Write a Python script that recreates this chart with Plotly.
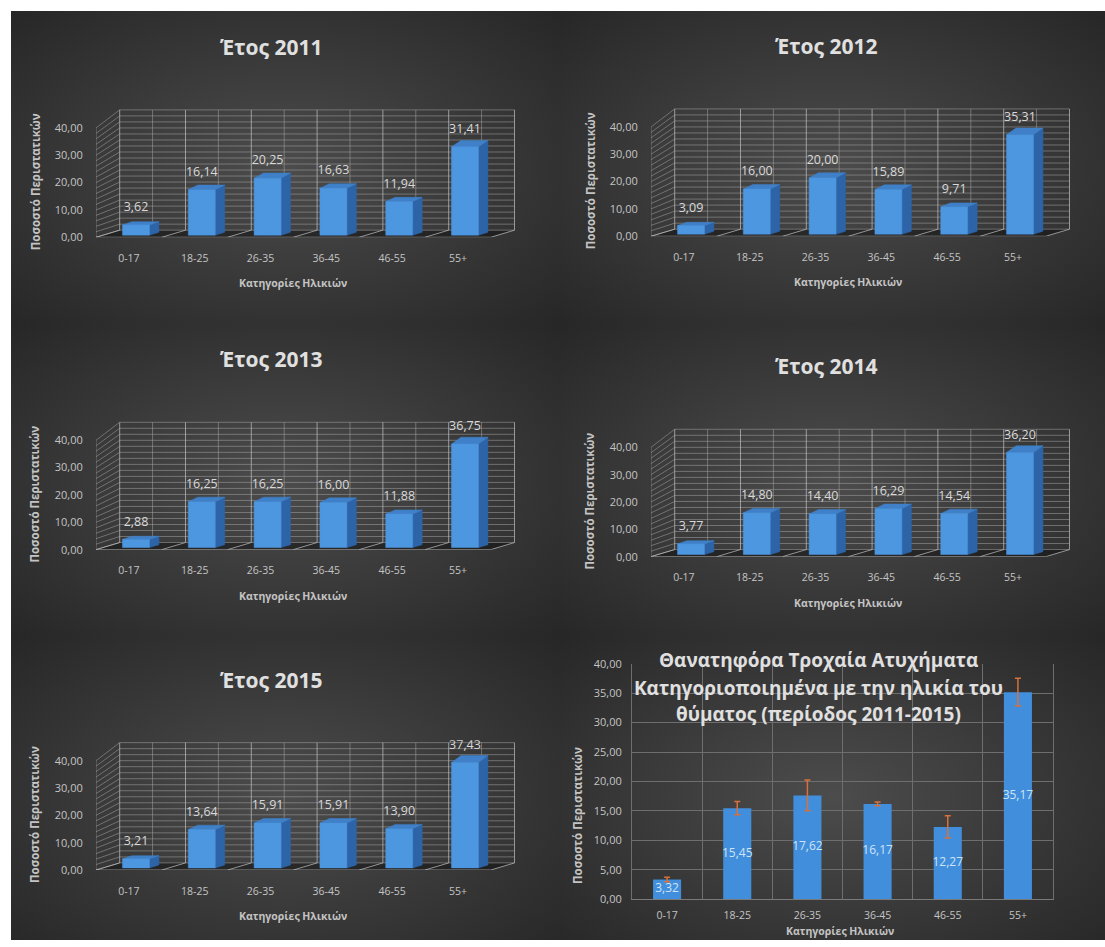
import base64
import plotly.graph_objects as go

# ---------------- data ----------------
categories = ["0-17", "18-25", "26-35", "36-45", "46-55", "55+"]
years = ["2011", "2012", "2013", "2014", "2015"]
values_2011 = [3.62, 16.14, 20.25, 16.63, 11.94, 31.41]
values_2012 = [3.09, 16.00, 20.00, 15.89, 9.71, 35.31]
values_2013 = [2.88, 16.25, 16.25, 16.00, 11.88, 36.75]
values_2014 = [3.77, 14.80, 14.40, 16.29, 14.54, 36.20]
values_2015 = [3.21, 13.64, 15.91, 15.91, 13.90, 37.43]
avg_values = [3.32, 15.45, 17.62, 16.17, 12.27, 35.17]
avg_errors = [0.37, 1.13, 2.62, 0.31, 1.91, 2.37]
y_ticks_3d = [0, 10, 20, 30, 40]
y_ticks_2d = [0, 5, 10, 15, 20, 25, 30, 35, 40]
x_title = "Κατηγορίες Ηλικιών"
y_title = "Ποσοστό Περιστατικών"
summary_title = ["Θανατηφόρα Τροχαία Ατυχήματα",
                 "Κατηγοριοποιημένα με την ηλικία του",
                 "θύματος (περίοδος 2011-2015)"]
year_series = [values_2011, values_2012, values_2013, values_2014, values_2015]

# ---------------- layout constants ----------------
W, H = 1105, 947
VOFF, VSC = 8.0, 0.983     # vertical calibration of target pixel positions
FONT = "Open Sans"
PXC = 65.8      # px per category (front plane)
PXV = 2.73      # px per value unit (front plane)
DX, S, DY0 = 0.36, 0.10, 2.6   # pseudo-3D depth projection
XR = [-0.5, 6.0]
YR = [0, 47.5]
panel_pos = [(96, 237), (651, 236), (96, 549), (651, 556), (96, 869)]

TXT = "#c4c4c4"
TITLE_C = "#e0e0e0"
GRID = "rgba(170,170,170,0.5)"
GRID_B = "rgba(195,195,195,0.7)"


def fmt(v):
    return f"{v:.2f}".replace(".", ",")


def fx(px):
    return px / W


def dy(py):
    return (py - VOFF) / VSC


def fy(py):
    return 1 - dy(py) / H


def proj(x, v, d):
    return x + d * DX, v * (1 + d * S) + d * DY0


fig = go.Figure()
annotations = []


def add_lines(segs, xa, ya, color, width=1):
    xs, ys = [], []
    for (a, b) in segs:
        xs += [a[0], b[0], None]
        ys += [a[1], b[1], None]
    fig.add_trace(go.Scatter(x=xs, y=ys, mode="lines", xaxis=xa, yaxis=ya,
                             line=dict(color=color, width=width),
                             hoverinfo="skip", showlegend=False))


def add_polys(polys, xa, ya, color, line_color=None):
    xs, ys = [], []
    for p in polys:
        for q in p:
            xs.append(q[0]); ys.append(q[1])
        xs.append(p[0][0]); ys.append(p[0][1])
        xs.append(None); ys.append(None)
    fig.add_trace(go.Scatter(x=xs, y=ys, mode="lines", fill="toself", fillcolor=color,
                             xaxis=xa, yaxis=ya,
                             line=dict(color=line_color or color, width=0.5),
                             hoverinfo="skip", showlegend=False))


layout_axes = {}
for k, (vals, yr, (Lp, y0)) in enumerate(zip(year_series, years, panel_pos)):
    n = k + 1
    xa, ya = f"x{n}", f"y{n}"
    floor = [proj(-0.5, 0, 0), proj(5.5, 0, 0), proj(5.5, 0, 1), proj(-0.5, 0, 1)]
    add_polys([floor], xa, ya, "rgba(0,0,0,0.38)", "rgba(0,0,0,0)")
    segs = []
    for v in range(0, 41, 2):
        segs.append((proj(-0.5, v, 1), proj(5.5, v, 1)))
    for i in range(13):
        x = -0.5 + i * 0.5
        if i % 2 == 1:
            segs.append((proj(x, 0, 1), proj(x, 40, 1)))
    add_lines(segs, xa, ya, GRID, 1)
    segs = []
    for i in range(7):
        x = -0.5 + i
        segs.append((proj(x, 0, 1), proj(x, 40, 1)))
    add_lines(segs, xa, ya, GRID_B, 1)
    segs = []
    for v in range(0, 41, 2):
        segs.append((proj(-0.5, v, 0), proj(-0.5, v, 1)))
    segs.append((proj(-0.5, 0, 0), proj(-0.5, 40, 0)))
    add_lines(segs, xa, ya, GRID, 1)
    segs = [(proj(-0.5, 0, 0), proj(5.5, 0, 0))]
    for i in range(7):
        x = -0.5 + i
        segs.append((proj(x, 0, 0), proj(x, 0, 1)))
    add_lines(segs, xa, ya, GRID_B, 1)
    w = 0.41
    d0, d1 = 0.3, 0.7
    fronts, sides, tops = [], [], []
    for i, v in enumerate(vals):
        x0, x1 = i - w / 2, i + w / 2
        fronts.append([proj(x0, 0, d0), proj(x1, 0, d0), proj(x1, v, d0), proj(x0, v, d0)])
        sides.append([proj(x1, 0, d0), proj(x1, 0, d1), proj(x1, v, d1), proj(x1, v, d0)])
        tops.append([proj(x0, v, d0), proj(x1, v, d0), proj(x1, v, d1), proj(x0, v, d1)])
    add_polys(sides, xa, ya, "#2d64a8")
    add_polys(tops, xa, ya, "#3f80c8")
    add_polys(fronts, xa, ya, "#4d96e0")
    lx = [proj(i, v, d0)[0] for i, v in enumerate(vals)]
    ly = [proj(i, v, d0)[1] + 6.2 for i, v in enumerate(vals)]
    fig.add_trace(go.Scatter(x=lx, y=ly, mode="text", text=[fmt(v) for v in vals],
                             textposition="middle center", xaxis=xa, yaxis=ya,
                             textfont=dict(family=FONT, size=12.5, color="#d9d9d9"),
                             hoverinfo="skip", showlegend=False))
    layout_axes[f"xaxis{n}" if n > 1 else "xaxis"] = dict(
        domain=[fx(Lp), fx(Lp + (XR[1] - XR[0]) * PXC)], range=XR, anchor=ya,
        tickvals=list(range(6)), ticktext=categories, showgrid=False, zeroline=False,
        showline=False, ticks="outside", ticklen=11, tickcolor="rgba(0,0,0,0)",
        tickfont=dict(family=FONT, size=10.5, color=TXT), fixedrange=True)
    layout_axes[f"yaxis{n}" if n > 1 else "yaxis"] = dict(
        domain=[fy(y0), fy(y0 - (YR[1] - YR[0]) * PXV)], range=YR, anchor=xa,
        tickvals=y_ticks_3d, ticktext=[fmt(t) for t in y_ticks_3d], showgrid=False,
        zeroline=False, showline=False, ticks="outside", ticklen=10,
        tickcolor="rgba(0,0,0,0)", tickfont=dict(family=FONT, size=11, color=TXT),
        fixedrange=True)
    annotations.append(dict(text=f"<b>Έτος {yr}</b>", x=fx(Lp + 175), y=fy(y0 - 190),
                            xref="paper", yref="paper", showarrow=False,
                            xanchor="center", yanchor="middle",
                            font=dict(family=FONT, size=21, color=TITLE_C)))
    annotations.append(dict(text=f"<b>{x_title}</b>", x=fx(Lp + 3 * PXC), y=fy(y0 + 46),
                            xref="paper", yref="paper", showarrow=False,
                            xanchor="center", yanchor="middle",
                            font=dict(family=FONT, size=10.5, color=TXT)))
    annotations.append(dict(text=f"<b>{y_title}</b>", x=fx(Lp - 61), y=fy(y0 - 55),
                            xref="paper", yref="paper", showarrow=False, textangle=-90,
                            xanchor="center", yanchor="middle",
                            font=dict(family=FONT, size=11.5, color=TXT)))

# ---------------- summary 2D chart ----------------
fig.add_trace(go.Bar(x=categories, y=avg_values, xaxis="x6", yaxis="y6", width=0.4,
                     marker=dict(color="#418fdc", line=dict(width=0)),
                     error_y=dict(type="data", array=avg_errors, visible=True,
                                  color="#d8703a", thickness=1.5, width=3),
                     hoverinfo="skip", showlegend=False))
fig.add_trace(go.Scatter(x=categories, y=[v / 2 for v in avg_values], mode="text",
                         text=[fmt(v) for v in avg_values], xaxis="x6", yaxis="y6",
                         textfont=dict(family=FONT, size=12, color="#cfe3f7"),
                         hoverinfo="skip", showlegend=False))
layout_axes["xaxis6"] = dict(domain=[fx(632), fx(1053)], anchor="y6", type="category",
                             showgrid=True, gridcolor="#6e6e6e", gridwidth=1,
                             tickson="boundaries", showline=True, linecolor="#7a7a7a",
                             ticks="", ticklabelstandoff=6,
                             tickfont=dict(family=FONT, size=10.5, color=TXT),
                             fixedrange=True)
layout_axes["yaxis6"] = dict(domain=[fy(898), fy(663)], anchor="x6", range=[0, 40],
                             tickvals=y_ticks_2d, ticktext=[fmt(t) for t in y_ticks_2d],
                             showgrid=True, gridcolor="#6e6e6e", gridwidth=1,
                             zeroline=False, showline=True, mirror=True, linecolor="#6e6e6e",
                             ticks="outside", ticklen=7, tickcolor="rgba(0,0,0,0)",
                             tickfont=dict(family=FONT, size=11, color=TXT),
                             fixedrange=True)
for line, py in zip(summary_title, [659, 687, 713]):
    annotations.append(dict(text=f"<b>{line}</b>", x=fx(818), y=fy(py), xref="paper",
                            yref="paper", showarrow=False, xanchor="center",
                            yanchor="middle",
                            font=dict(family=FONT, size=19, color=TITLE_C)))
annotations.append(dict(text=f"<b>{x_title}</b>", x=fx(840), y=0, xref="paper",
                        yref="paper", showarrow=False, xanchor="center", yanchor="bottom",
                        font=dict(family=FONT, size=10.5, color=TXT)))
annotations.append(dict(text=f"<b>{y_title}</b>", x=fx(578), y=fy(815), xref="paper",
                        yref="paper", showarrow=False, textangle=-90, xanchor="center",
                        yanchor="middle", font=dict(family=FONT, size=11.5, color=TXT)))

# ---------------- background (radial gradient panels) ----------------
panels = [(11, 11, 547, 312), (558, 11, 547, 312), (11, 323, 547, 312),
          (558, 323, 547, 312), (11, 635, 547, 320), (558, 635, 547, 320)]
rects = "".join(
    f'<rect x="{x}" y="{dy(y):.1f}" width="{w + 1}" height="{h / VSC + 1:.1f}" fill="url(#g)"/>'
    for x, y, w, h in panels)
top = dy(11)
svg = (f'<svg xmlns="http://www.w3.org/2000/svg" width="{W}" height="{H}" '
       f'viewBox="0 0 {W} {H}" preserveAspectRatio="none"><defs>'
       '<radialGradient id="g" cx="50%" cy="50%" r="72%">'
       '<stop offset="0" stop-color="#4c4c4c"/><stop offset="1" stop-color="#262626"/>'
       '</radialGradient></defs>'
       f'<rect width="{W}" height="{H}" fill="#ffffff"/>'
       f'<rect x="11" y="{top:.1f}" width="{W - 11}" height="{H}" fill="#262626"/>'
       f'{rects}</svg>')
src = "data:image/svg+xml;base64," + base64.b64encode(svg.encode()).decode()

fig.update_layout(
    width=W, height=H, margin=dict(l=0, r=0, t=0, b=0, pad=0),
    paper_bgcolor="#ffffff", plot_bgcolor="rgba(0,0,0,0)",
    showlegend=False, annotations=annotations,
    images=[dict(source=src, xref="paper", yref="paper", x=0, y=1, sizex=1, sizey=1,
                 xanchor="left", yanchor="top", sizing="stretch", layer="below")],
    **layout_axes)

fig.write_html("out.html", config={"displayModeBar": False})
